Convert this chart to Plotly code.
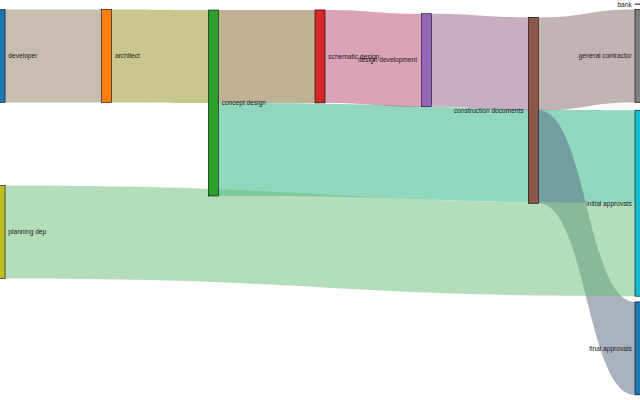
import plotly.graph_objects as go

# ---- data ----
labels = ["developer", "architect", "concept design", "schematic design",
          "design development", "construction documents", "bank",
          "general contractor", "planning dep", "initial approvals", "final approvals"]
sources = [0, 1, 2, 2, 3, 4, 5, 5, 5, 8]
targets = [1, 2, 3, 9, 4, 5, 6, 7, 10, 9]
values = [1, 1, 1, 1, 1, 1, 0.001, 1, 1, 1]

# ---- layout: vertical centre of each node (fraction of plot height) ----
node_y = [0.14, 0.14, 0.2575, 0.141, 0.1505, 0.2758, 0.01, 0.14, 0.58, 0.508, 0.871]

W, H = 640, 400
THICK = 10
FONT = dict(family="Liberation Sans, Arial, sans-serif", size=6.6, color="#1a1a1a", shadow="none")

palette = ["#1f77b4", "#ff7f0e", "#2ca02c", "#d62728", "#9467bd",
           "#8c564b", "#e377c2", "#7f7f7f", "#bcbd22", "#17becf"]
node_colors = [palette[i % len(palette)] for i in range(len(labels))]

# column of each node: longest path from a source; sinks pushed to the last column
n = len(labels)
depth = [0] * n
for _ in range(n):
    for s, t in zip(sources, targets):
        depth[t] = max(depth[t], depth[s] + 1)
max_depth = max(depth)
has_out = set(sources)
col = [depth[i] if i in has_out else max_depth for i in range(n)]
node_x = [max(c / max_depth, 0.0001) for c in col]

# node throughput (to hide the empty "bank" node outline)
flow = [0.0] * n
for s, t, v in zip(sources, targets, values):
    flow[s] += v
    flow[t] += v


def rgb(h):
    h = h.lstrip("#")
    return [int(h[i:i + 2], 16) for i in (0, 2, 4)]


def blend(a, b, alpha=0.5):
    ca, cb = rgb(a), rgb(b)
    m = [round((x + y) / 2) for x, y in zip(ca, cb)]
    return "rgba(%d,%d,%d,%.2f)" % (m[0], m[1], m[2], alpha)


link_colors = [blend(node_colors[s], node_colors[t], 0.5 if v >= 0.01 else 0.0)
               for s, t, v in zip(sources, targets, values)]
node_fill = [c if flow[i] >= 0.01 else "rgba(0,0,0,0)" for i, c in enumerate(node_colors)]
node_line = ["#333" if flow[i] >= 0.01 else "rgba(0,0,0,0)" for i in range(n)]

# nodes in the right half (except the last column) get their label on the left
left_side = [0.5 < node_x[i] < 1 for i in range(n)]
node_text = ["" if left_side[i] else labels[i] for i in range(n)]

fig = go.Figure(go.Sankey(
    arrangement="fixed",
    node=dict(label=node_text, color=node_fill, thickness=THICK, pad=9.33,
              x=node_x, y=node_y,
              line=dict(color=node_line, width=0.6)),
    link=dict(source=sources, target=targets, value=values, color=link_colors),
    textfont=FONT,
))

for i in range(n):
    if left_side[i]:
        fig.add_annotation(
            text=labels[i], showarrow=False, xref="paper", yref="paper",
            x=(node_x[i] * W - THICK / 2 - 3.3) / W, y=1 - node_y[i],
            xanchor="right", yanchor="middle", borderpad=0,
            font=dict(family=FONT["family"], size=FONT["size"], color=FONT["color"]),
        )

fig.update_layout(width=W, height=H, margin=dict(l=0, r=0, t=0, b=0),
                  paper_bgcolor="white")
fig.write_html("out.html", config={"displayModeBar": False},
               post_script="document.body.style.margin='0';")
